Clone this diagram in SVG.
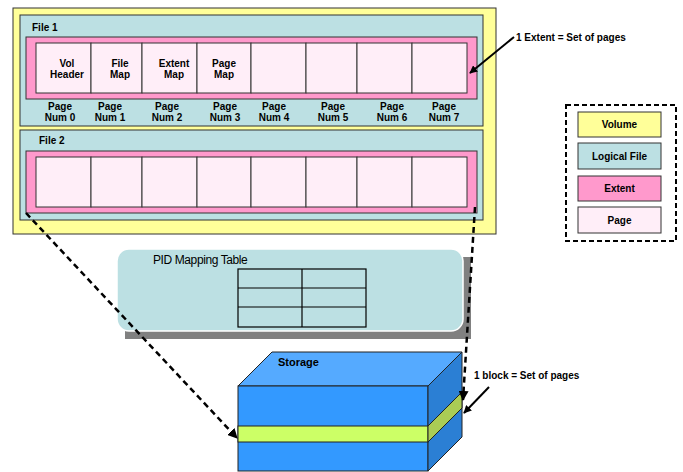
<svg xmlns="http://www.w3.org/2000/svg" width="683" height="472" viewBox="0 0 683 472">
<defs>
<marker id="ah" viewBox="0 0 10 10" refX="9" refY="5" markerWidth="4" markerHeight="4" orient="auto" markerUnits="strokeWidth">
<path d="M0,0 L10,5 L0,10 z" fill="#000"/>
</marker>
<style>
.b{font-family:"Liberation Sans",Arial,sans-serif;font-weight:bold;font-size:10px;fill:#000;text-anchor:middle}
.bl{font-family:"Liberation Sans",Arial,sans-serif;font-weight:bold;font-size:10px;fill:#000}
.s{stroke:#333;stroke-width:1}
.vol{fill:#FFFF99}
.file{fill:#BCE0E3}
.ext{fill:#FF99CC}
.pg{fill:#FFEEF8}
.dash{fill:none;stroke:#000;stroke-width:2.5;stroke-dasharray:6,4}
.arr{fill:none;stroke:#000;stroke-width:2}
</style>
</defs>
<rect width="683" height="472" fill="#fff"/>
<g id="volume">
<rect x="13" y="8" width="483" height="226" class="vol s"/>
</g>
<g id="file1">
<rect x="20" y="15" width="463" height="111" class="file s"/>
<text x="32" y="31" class="bl">File 1</text>
<rect x="26" y="37" width="451" height="62" class="ext s"/>
<g id="f1pages">
<rect x="36" y="43" width="55" height="50" class="pg s"/>
<rect x="91" y="43" width="51" height="50" class="pg s"/>
<rect x="142" y="43" width="55" height="50" class="pg s"/>
<rect x="197" y="43" width="54" height="50" class="pg s"/>
<rect x="251" y="43" width="55" height="50" class="pg s"/>
<rect x="306" y="43" width="51" height="50" class="pg s"/>
<rect x="357" y="43" width="55" height="50" class="pg s"/>
<rect x="412" y="43" width="55" height="50" class="pg s"/>
</g>
<text x="67" y="67" class="b">Vol</text><text x="67" y="78" class="b">Header</text>
<text x="120" y="67" class="b">File</text><text x="120" y="78" class="b">Map</text>
<text x="174" y="67" class="b">Extent</text><text x="174" y="78" class="b">Map</text>
<text x="224" y="67" class="b">Page</text><text x="224" y="78" class="b">Map</text>
<text x="60" y="110" class="b">Page</text><text x="60" y="121" class="b">Num 0</text>
<text x="110" y="110" class="b">Page</text><text x="110" y="121" class="b">Num 1</text>
<text x="167" y="110" class="b">Page</text><text x="167" y="121" class="b">Num 2</text>
<text x="225" y="110" class="b">Page</text><text x="225" y="121" class="b">Num 3</text>
<text x="274" y="110" class="b">Page</text><text x="274" y="121" class="b">Num 4</text>
<text x="333" y="110" class="b">Page</text><text x="333" y="121" class="b">Num 5</text>
<text x="392" y="110" class="b">Page</text><text x="392" y="121" class="b">Num 6</text>
<text x="444" y="110" class="b">Page</text><text x="444" y="121" class="b">Num 7</text>
</g>
<g id="file2">
<rect x="20" y="130" width="463" height="90" class="file s"/>
<text x="39" y="144" class="bl">File 2</text>
<rect x="26" y="151" width="451" height="62" class="ext s"/>
<g id="f2pages">
<rect x="36" y="157" width="55" height="50" class="pg s"/>
<rect x="91" y="157" width="51" height="50" class="pg s"/>
<rect x="142" y="157" width="55" height="50" class="pg s"/>
<rect x="197" y="157" width="54" height="50" class="pg s"/>
<rect x="251" y="157" width="55" height="50" class="pg s"/>
<rect x="306" y="157" width="51" height="50" class="pg s"/>
<rect x="357" y="157" width="55" height="50" class="pg s"/>
<rect x="412" y="157" width="55" height="50" class="pg s"/>
</g>
</g>
<g id="legend">
<rect x="566" y="105" width="110" height="136" fill="#fff" stroke="#000" stroke-width="2" stroke-dasharray="5,3"/>
<rect x="578" y="112" width="83" height="25" class="vol s"/>
<text x="619.5" y="128" class="b">Volume</text>
<rect x="578" y="143" width="83" height="26" class="file s"/>
<text x="619.5" y="160" class="b">Logical File</text>
<rect x="578" y="176" width="83" height="25" class="ext s"/>
<text x="619.5" y="192" class="b">Extent</text>
<rect x="578" y="207" width="83" height="26" class="pg s"/>
<text x="619.5" y="224" class="b">Page</text>
</g>
<g id="pid">
<rect x="125" y="257" width="346" height="82" fill="#808080"/>
<rect x="117" y="249" width="346" height="82" rx="12" ry="12" fill="#BCE0E3" stroke="#fff" stroke-width="1.5"/>
<text x="153" y="264" font-family="'Liberation Sans',Arial,sans-serif" font-size="12" letter-spacing="-0.4" fill="#000">PID Mapping Table</text>
<rect x="238" y="269" width="128" height="58" fill="none" stroke="#000" stroke-width="1.2"/>
<line x1="302" y1="269" x2="302" y2="327" stroke="#000" stroke-width="1.2"/>
<line x1="238" y1="288" x2="366" y2="288" stroke="#000" stroke-width="1.2"/>
<line x1="238" y1="307" x2="366" y2="307" stroke="#000" stroke-width="1.2"/>
</g>
<g id="storage" stroke="#222" stroke-width="1">
<polygon points="238,386 272,352 462,352 428,386" fill="#55AAFF"/>
<rect x="238" y="386" width="190" height="85" fill="#3399FF"/>
<polygon points="428,386 462,352 462,437 428,471" fill="#2B7FD4"/>
<rect x="238" y="426" width="190" height="16" fill="#CCFF66"/>
<polygon points="428,426 462,392 462,408 428,442" fill="#AACC55"/>
<text x="278" y="366" font-family="'Liberation Sans',Arial,sans-serif" font-weight="bold" font-size="11" fill="#000" stroke="none">Storage</text>
</g>
<g id="connectors">
<path d="M26,213 L237,438" class="dash" marker-end="url(#ah)"/>
<path d="M475,207 L463,400" class="dash" marker-end="url(#ah)"/>
<path d="M514,37 L470,73" class="arr" marker-end="url(#ah)"/>
<path d="M489,387 L464,413" class="arr" marker-end="url(#ah)"/>
<text x="516" y="41" class="bl">1 Extent = Set of pages</text>
<text x="474" y="379" class="bl">1 block = Set of pages</text>
</g>
</svg>
